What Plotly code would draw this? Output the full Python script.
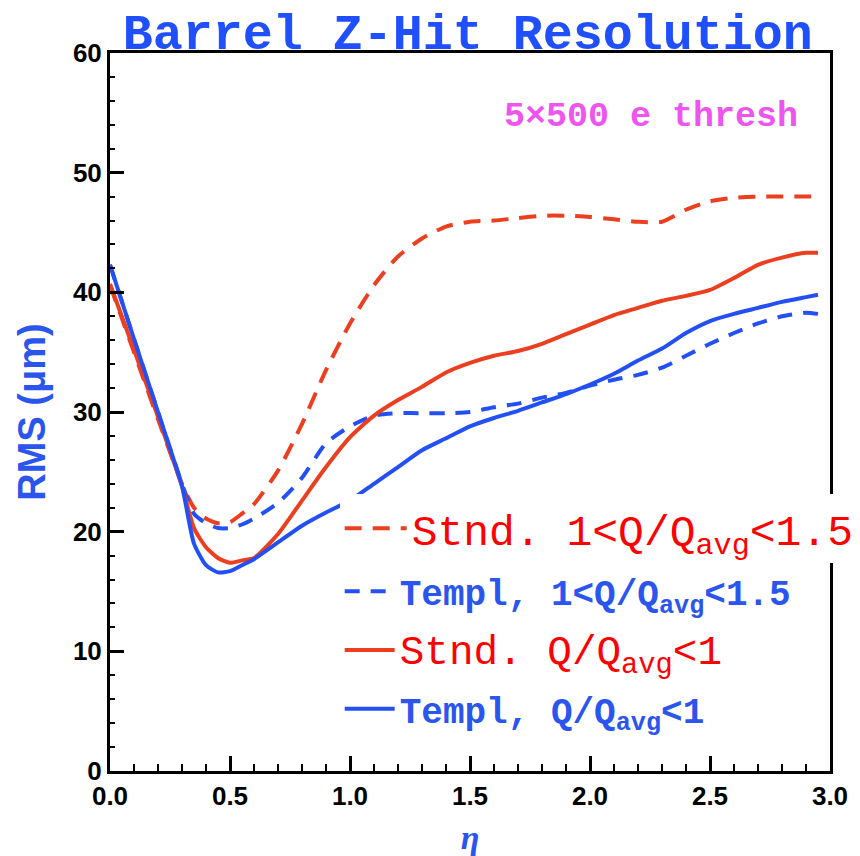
import plotly.graph_objects as go

# pseudorapidity sampling points
eta = [0.0, 0.1, 0.2, 0.3, 0.35, 0.4, 0.45, 0.5, 0.55, 0.6, 0.7, 0.8, 0.9, 1.0,
       1.1, 1.2, 1.3, 1.4, 1.5, 1.6, 1.7, 1.8, 1.9, 2.0, 2.1, 2.2, 2.3, 2.4,
       2.5, 2.6, 2.7, 2.8, 2.9, 2.95]

# RMS z-residual (microns)
stnd_high = [40.6, 35.0, 29.4, 24.0, 22.0, 21.1, 20.7, 20.8, 21.5, 22.3, 25.1, 29.0,
             33.5, 37.4, 40.6, 43.0, 44.5, 45.5, 45.9, 46.0, 46.2, 46.4, 46.4, 46.3,
             46.1, 45.9, 45.9, 46.9, 47.6, 47.9, 48.0, 48.0, 48.0, 48.0]
templ_high = [42.3, 36.1, 30.0, 24.0, 21.5, 20.7, 20.3, 20.3, 20.6, 21.1, 22.4, 24.5,
              27.4, 28.8, 29.7, 29.9, 29.9, 29.9, 30.0, 30.4, 30.7, 31.2, 31.6, 32.2,
              32.7, 33.1, 33.7, 34.7, 35.7, 36.6, 37.4, 38.0, 38.3, 38.2]
stnd_low = [40.7, 35.2, 29.6, 23.8, 20.3, 18.7, 17.8, 17.4, 17.6, 17.8, 19.8, 22.6,
            25.4, 27.9, 29.7, 31.0, 32.1, 33.3, 34.1, 34.7, 35.1, 35.7, 36.5, 37.3,
            38.1, 38.7, 39.3, 39.7, 40.2, 41.2, 42.3, 42.9, 43.3, 43.3]
templ_low = [42.3, 36.1, 30.0, 23.8, 19.0, 17.2, 16.6, 16.7, 17.2, 17.7, 19.1, 20.5,
             21.6, 22.6, 24.0, 25.4, 26.8, 27.8, 28.8, 29.5, 30.1, 30.8, 31.5, 32.3,
             33.2, 34.3, 35.3, 36.6, 37.6, 38.2, 38.7, 39.2, 39.6, 39.8]

x_ticks = [0.0, 0.5, 1.0, 1.5, 2.0, 2.5, 3.0]
y_ticks = [0, 10, 20, 30, 40, 50, 60]

RED = "#ec3f20"
BLUE = "#2350f5"
TXT_RED = "#ff0000"
TXT_BLUE = "#2a55ee"
MONO = "Liberation Mono"

red_span = "<span style='font-family:Liberation Mono;font-weight:normal;color:#ff0000;font-size:41px'>{}</span>"

series = [
    (stnd_high, RED, "17px,11px", "Stnd. 1&lt;Q/Q<sub>avg</sub>&lt;1.5", "legend", "g1"),
    (templ_high, BLUE, "15px,11px", "Templ, 1&lt;Q/Q<sub>avg</sub>&lt;1.5", "legend2", "g2"),
    (stnd_low, RED, "solid", red_span.format("Stnd. Q/Q<sub>avg</sub>&lt;1"), "legend2", "g3"),
    (templ_low, BLUE, "solid", "Templ, Q/Q<sub>avg</sub>&lt;1", "legend2", "g4"),
]

fig = go.Figure()
for vals, col, dash, name, leg, grp in series:
    fig.add_trace(go.Scatter(
        x=eta, y=vals, mode="lines", name=name, legend=leg, legendgroup=grp,
        line=dict(color=col, width=4, dash=dash, shape="spline", smoothing=0.6),
    ))

fig.update_layout(
    width=860, height=856,
    margin=dict(l=110, r=30, t=53, b=85, autoexpand=False),
    paper_bgcolor="white", plot_bgcolor="white",
    title=dict(text="Barrel Z-Hit Resolution", x=0.544, xanchor="center",
               y=1 - 31 / 856, yanchor="middle",
               font=dict(family=MONO, size=50, color="#1f4fff", weight="bold")),
    legend=dict(x=0.319, y=0.338, xanchor="left", yanchor="middle",
                bgcolor="white", borderwidth=0, itemwidth=62,
                font=dict(family=MONO, size=43, color=TXT_RED)),
    legend2=dict(x=0.319, y=0.292, xanchor="left", yanchor="top",
                 bgcolor="rgba(0,0,0,0)", borderwidth=0, itemwidth=50,
                 traceorder="grouped", tracegroupgap=9,
                 font=dict(family=MONO, size=36, color=TXT_BLUE, weight="bold")),
    showlegend=True,
)

fig.update_xaxes(
    range=[0, 3], tickvals=x_ticks, tickformat=".1f",
    ticks="inside", ticklen=15, tickwidth=2.5, tickcolor="black",
    minor=dict(dtick=0.1, ticks="inside", ticklen=7, tickwidth=2, tickcolor="black"),
    showgrid=False, zeroline=False, showline=True, linewidth=3, linecolor="black", mirror=True,
    tickfont=dict(family="Liberation Sans Narrow, Liberation Sans", size=26, color="black", weight="bold"),
    title=dict(text="η", standoff=18,
               font=dict(family="Liberation Serif", size=34, color=TXT_BLUE, style="italic", weight="bold")),
)
fig.update_yaxes(
    range=[0, 60], tickvals=y_ticks,
    ticks="inside", ticklen=14, tickwidth=2.5, tickcolor="black",
    minor=dict(dtick=2, ticks="inside", ticklen=5, tickwidth=2, tickcolor="black"),
    showgrid=False, zeroline=False, showline=True, linewidth=3, linecolor="black", mirror=True,
    tickfont=dict(family="Liberation Sans Narrow, Liberation Sans", size=26, color="black", weight="bold"),
    title=dict(text="RMS (μm)", standoff=16,
               font=dict(family="Liberation Sans Narrow, Liberation Sans", size=38, color=TXT_BLUE, weight="bold")),
)

fig.add_annotation(text="5×500 e thresh", xref="paper", yref="paper",
                   x=0.751, y=0.911, xanchor="center", yanchor="middle", showarrow=False,
                   font=dict(family=MONO, size=35, color="#ee55ee", weight="bold"))
fig.add_annotation(text="5", xref="paper", yref="paper",
                   x=(3 - 110) / 720, y=0.315, xanchor="right", yanchor="middle", showarrow=False,
                   font=dict(family=MONO, size=40, color=TXT_RED))

fig.write_html("out.html")
